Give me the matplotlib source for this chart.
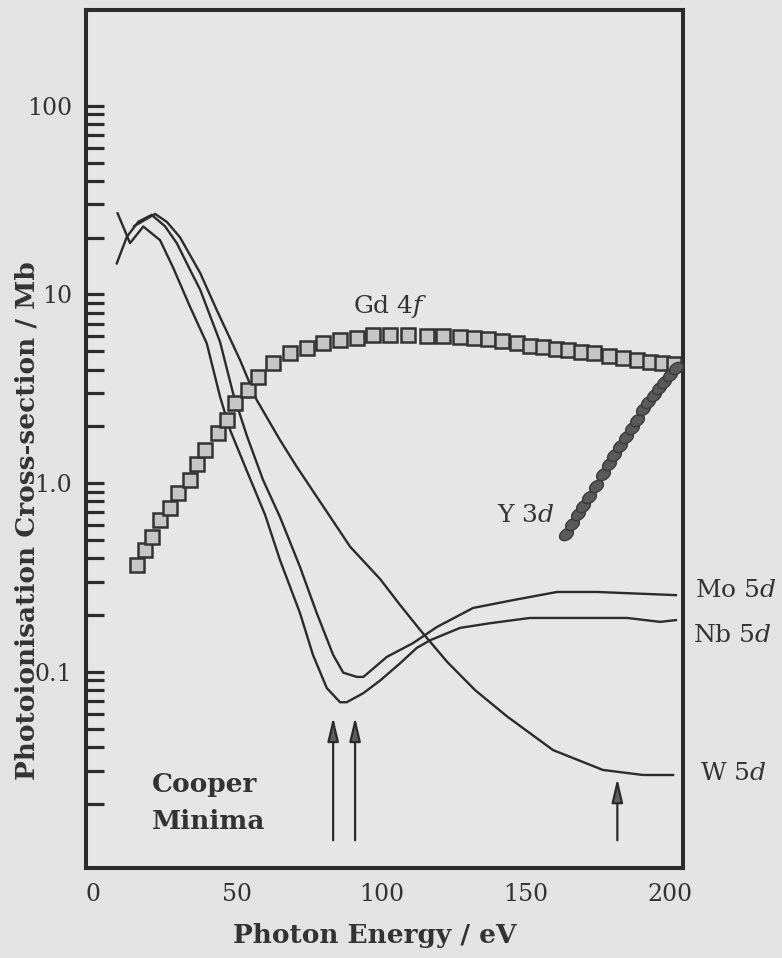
import matplotlib
matplotlib.use("Agg")
import matplotlib.pyplot as plt
from matplotlib.markers import MarkerStyle
from matplotlib.transforms import Affine2D
from matplotlib.ticker import FixedLocator, FixedFormatter, NullFormatter

# Photon energies (eV) and cross-sections (Mb) for each orbital
nb_energy = [8.5, 12.8, 17.4, 23.2, 27.8, 33.6, 39.4, 44.0, 47.5, 53.2, 59.6, 64.8,
             71.7, 76.2, 81.0, 85.6, 87.9, 93.6, 99.5, 106.4, 112.2, 116.8, 127.2,
             137.6, 151.4, 168.8, 185.1, 196.5, 202.0]
nb_sigma = [26.9, 18.7, 22.9, 19.4, 13.8, 8.6, 5.5, 2.87, 1.91, 1.17, 0.68, 0.39,
            0.205, 0.123, 0.082, 0.069, 0.069, 0.077, 0.090, 0.111, 0.134, 0.147, 0.171,
            0.181, 0.193, 0.193, 0.193, 0.184, 0.188]

mo_energy = [8.2, 11.7, 15.7, 20.3, 24.9, 29.0, 33.6, 37.1, 44.0, 48.5, 53.3, 58.9,
             64.8, 71.7, 77.5, 83.2, 86.7, 91.4, 93.7, 101.8, 110.9, 119.2, 131.7,
             145.6, 160.8, 174.7, 202.0]
mo_sigma = [14.6, 20.2, 24.3, 26.4, 23.0, 18.7, 13.5, 10.6, 5.6, 3.0, 1.78, 1.04,
            0.66, 0.36, 0.205, 0.123, 0.099, 0.094, 0.094, 0.120, 0.142, 0.173, 0.218,
            0.240, 0.265, 0.265, 0.255]

w_energy = [14.2, 21.5, 25.6, 30.1, 37.1, 42.8, 50.9, 56.7, 64.8, 70.6, 89.1, 99.5,
            106.4, 113.3, 122.7, 132.4, 143.5, 159.4, 176.7, 190.6, 201.0]
w_sigma = [23.0, 26.7, 24.2, 20.1, 13.0, 8.3, 4.5, 2.76, 1.69, 1.22, 0.46, 0.31,
           0.226, 0.167, 0.113, 0.080, 0.058, 0.0385, 0.0302, 0.0284, 0.0284]

gd_energy = [15.1, 18.0, 20.3, 23.2, 26.7, 29.5, 33.6, 35.9, 38.8, 43.4, 46.3, 49.2,
             53.8, 57.3, 62.2, 68.3, 74.0, 79.8, 85.6, 91.4, 97.1, 102.9, 109.3, 115.6,
             121.4, 127.2, 132.0, 136.9, 141.7, 146.8, 151.4, 156.1, 160.5, 164.6,
             169.1, 173.6, 178.8, 183.8, 188.4, 193.0, 197.2, 201.4]
gd_sigma = [0.368, 0.442, 0.520, 0.637, 0.735, 0.883, 1.04, 1.27, 1.50, 1.84, 2.16, 2.65,
            3.11, 3.66, 4.31, 4.87, 5.18, 5.51, 5.73, 5.85, 6.09, 6.09, 6.09, 6.05,
            6.00, 5.95, 5.88, 5.80, 5.68, 5.50, 5.36, 5.24, 5.16, 5.07, 4.97, 4.87,
            4.72, 4.60, 4.49, 4.38, 4.33, 4.30]

y_energy = [163.9, 166.0, 168.1, 169.8, 171.9, 174.3, 176.7, 178.8, 180.6, 182.6,
            184.7, 186.8, 188.5, 190.6, 192.3, 194.4, 196.2, 197.9, 200.0, 202.1]
y_sigma = [0.537, 0.607, 0.686, 0.756, 0.844, 0.965, 1.12, 1.26, 1.41, 1.57,
           1.76, 1.96, 2.16, 2.47, 2.69, 2.93, 3.19, 3.44, 3.74, 4.07]

# Cooper minima markers: energy, arrow tip, arrow tail
minima_energy = [83.2, 90.8, 181.7]
minima_tip = [0.0576, 0.0576, 0.0273]
minima_tail = [0.0128, 0.0128, 0.0128]

y_major = [0.1, 1, 10, 100]
y_major_labels = ["0.1", "1.0", "10", "100"]
x_ticks = [0, 50, 100, 150, 200]

plt.rcParams["font.family"] = ["DejaVu Serif"]
plt.rcParams["mathtext.fontset"] = "dejavuserif"

bg = "#e3e3e3"
ink = "#2b2b2b"

fig = plt.figure(figsize=(7.82, 9.58), dpi=100, facecolor=bg)
ax = fig.add_axes([86 / 782, 1 - 868 / 958, 597 / 782, 858 / 958])
ax.set_facecolor("#e6e6e6")
ax.set_yscale("log")

for e, s in [(nb_energy, nb_sigma), (mo_energy, mo_sigma), (w_energy, w_sigma)]:
    ax.plot(e, s, color=ink, lw=1.7, solid_joinstyle="round")

ax.plot(gd_energy, gd_sigma, ls="none", marker="s", ms=9.5, mfc="#c6c6c6",
        mec="#333333", mew=1.8, zorder=3)

oval = MarkerStyle("o", transform=Affine2D().scale(1.15, 0.8).rotate_deg(35))
ax.plot(y_energy, y_sigma, ls="none", marker=oval, ms=9.5, mfc="#5a5a5a",
        mec="#3a3a3a", mew=1.0, zorder=3)

for e, tip, tail in zip(minima_energy, minima_tip, minima_tail):
    ax.annotate("", xy=(e, tip), xytext=(e, tail),
                arrowprops=dict(arrowstyle="-|>,head_length=1.45,head_width=0.34",
                                lw=1.6, color=ink, fc="#5e5e5e",
                                shrinkA=0, shrinkB=0))

ax.set_xlim(-2.46, 204.45)
ax.set_ylim(0.00913, 321.6)

# axes frame
for sp in ax.spines.values():
    sp.set_linewidth(2.9)
    sp.set_color(ink)

ax.yaxis.set_major_locator(FixedLocator(y_major))
ax.yaxis.set_major_formatter(FixedFormatter(y_major_labels))
ax.yaxis.set_minor_locator(FixedLocator([k * 10.0 ** p for p in (-2, -1, 0, 1)
                                         for k in range(2, 10)]))
ax.yaxis.set_minor_formatter(NullFormatter())
ax.tick_params(axis="y", which="both", direction="in", length=13, width=2.3,
               color=ink, left=True, right=False, labelsize=17, pad=10,
               labelcolor="#333333")

ax.set_xticks(x_ticks)
ax.set_xticks([50, 100, 150], minor=True)
ax.tick_params(axis="x", which="major", length=0, pad=11, labelsize=17,
               labelcolor="#333333")
ax.tick_params(axis="x", which="minor", direction="in", length=15, width=2.3,
               color=ink, top=False, bottom=True)

# curve labels
lab = dict(fontsize=18, color="#333333")
ax.text(90, 7.97, r"Gd 4$f$", ha="left", va="baseline", **lab)
ax.text(160, 0.62, r"Y 3$d$", ha="right", va="baseline", **lab)
ax.text(208.6, 0.248, r"Mo 5$d$", ha="left", va="baseline", clip_on=False, **lab)
ax.text(208.0, 0.1433, r"Nb 5$d$", ha="left", va="baseline", clip_on=False, **lab)
ax.text(210.4, 0.0267, r"W 5$d$", ha="left", va="baseline", clip_on=False, **lab)

ax.text(20.4, 0.0232, "Cooper", ha="left", va="baseline", fontsize=19,
        fontweight="bold", color="#333333")
ax.text(20.4, 0.01463, "Minima", ha="left", va="baseline", fontsize=19,
        fontweight="bold", color="#333333")

fig.text(375 / 782, 1 - 936 / 958, "Photon Energy / eV", ha="center", va="center",
         fontsize=19, fontweight="bold", color="#333333")
fig.text(27 / 782, 1 - 521 / 958, "Photoionisation Cross-section / Mb", rotation=90,
         ha="center", va="center", fontsize=19, fontweight="bold", color="#333333")

fig.savefig("out.png", dpi=100, facecolor=fig.get_facecolor())
